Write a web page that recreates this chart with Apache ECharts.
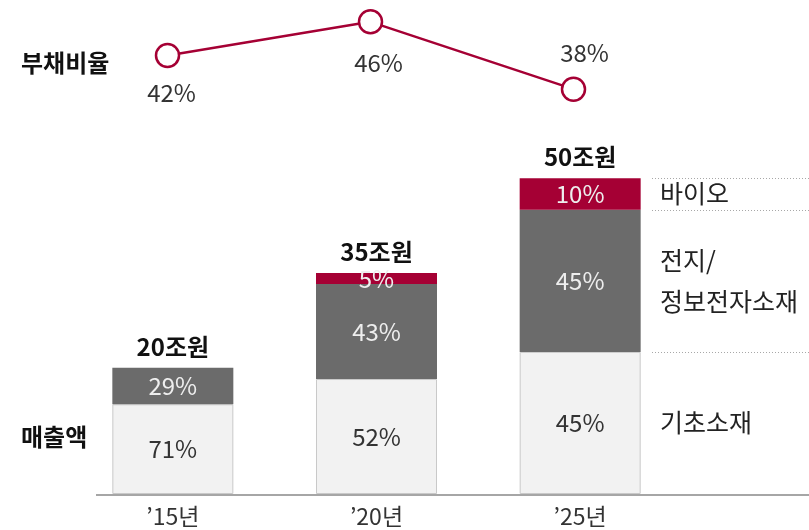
<!DOCTYPE html>
<html>
<head>
<meta charset="utf-8">
<script src="https://cdn.jsdelivr.net/npm/echarts@6/dist/echarts.min.js"></script>
<style>
  html, body { margin: 0; padding: 0; background: #fff; }
  #chart { width: 809px; height: 530px; }
</style>
</head>
<body>
<div id="chart"></div>
<script>
const years = ['’15년', '’20년', '’25년']
const totals = [20, 35, 50]            // 매출액 (조원)
const shareBase = [71, 52, 45]         // 기초소재 %
const shareBattery = [29, 43, 45]      // 전지/정보전자소재 %
const shareBio = [0, 5, 10]            // 바이오 %
const debtRatio = [42, 46, 38]         // 부채비율 %

const FONT = "'Noto Sans CJK KR', 'Noto Sans', sans-serif"
const RED = '#a50034'
const DARK = '#6b6b6b'
const LIGHT = '#f2f2f2'

let chart = echarts.init(document.getElementById('chart'))

// sales value of one segment = total * share
const part = (shares) => shares.map((s, i) => +(totals[i] * s / 100).toFixed(3))
const pctLabel = (shares, color) => ({
  show: true,
  position: 'inside',
  fontFamily: FONT,
  fontSize: 24,
  color,
  formatter: (p) => shares[p.dataIndex] ? shares[p.dataIndex] + '%' : ''
})

// label placement for the debt ratio points
const debtLabelPos = [
  { position: 'bottom', distance: 13, offset: [4, 0] },
  { position: 'bottom', distance: 16, offset: [8, 0] },
  { position: 'top', distance: 12, offset: [11, 0] }
]

let option = {
  animation: false,
  grid: [
    { left: 66, right: 134, top: 5, height: 101 },
    { left: 71, right: 127, top: 115, bottom: 36 }
  ],
  xAxis: [
    { gridIndex: 0, type: 'category', data: years, show: false },
    {
      gridIndex: 1, type: 'category', data: years,
      axisLine: { show: false }, axisTick: { show: false },
      axisLabel: { fontFamily: FONT, fontSize: 23, color: '#333', margin: 11 }
    }
  ],
  yAxis: [
    { gridIndex: 0, type: 'value', min: 36, max: 48, show: false },
    { gridIndex: 1, type: 'value', min: 0, max: 60, show: false }
  ],
  series: [
    {
      name: '부채비율', type: 'line', xAxisIndex: 0, yAxisIndex: 0,
      data: debtRatio.map((v, i) => ({ value: v, label: debtLabelPos[i] })),
      symbol: 'circle', symbolSize: 23,
      lineStyle: { color: RED, width: 2.5 },
      itemStyle: { color: '#fff', borderColor: RED, borderWidth: 2.5 },
      label: {
        show: true, fontFamily: FONT, fontSize: 24, color: '#333',
        formatter: (p) => p.value + '%'
      },
      z: 3
    },
    {
      name: '기초소재', type: 'bar', stack: 'sales', xAxisIndex: 1, yAxisIndex: 1,
      barWidth: 121, data: part(shareBase),
      itemStyle: { color: LIGHT, borderColor: '#c9c9c9', borderWidth: 1 },
      label: pctLabel(shareBase, '#333')
    },
    {
      name: '전지/정보전자소재', type: 'bar', stack: 'sales', xAxisIndex: 1, yAxisIndex: 1,
      barWidth: 121, data: part(shareBattery),
      itemStyle: { color: DARK },
      label: pctLabel(shareBattery, '#eeeeee')
    },
    {
      name: '바이오', type: 'bar', stack: 'sales', xAxisIndex: 1, yAxisIndex: 1,
      barWidth: 121, data: part(shareBio),
      itemStyle: { color: RED },
      label: pctLabel(shareBio, '#eeeeee')
    },
    {
      name: '합계', type: 'bar', stack: 'sales', xAxisIndex: 1, yAxisIndex: 1,
      barWidth: 121, data: totals.map(() => 0),
      label: {
        show: true, position: 'top', distance: 9,
        fontFamily: FONT, fontSize: 24, fontWeight: 'bold', color: '#111',
        formatter: (p) => totals[p.dataIndex] + '조원'
      }
    }
  ]
}
chart.setOption(option)

// annotations on the right of the last bar
let last = totals.length - 1
let yOf = (v) => chart.convertToPixel({ xAxisIndex: 1, yAxisIndex: 1 }, [last, v])[1]
let b0 = part(shareBase)[last]
let b1 = b0 + part(shareBattery)[last]
let b2 = b1 + part(shareBio)[last]
let baseY = yOf(0)
let dotted = (y) => ({
  type: 'line', shape: { x1: 652, y1: y, x2: 809, y2: y },
  style: { stroke: '#a8a8a8', lineWidth: 1, lineDash: [1, 2] }
})
let txt = (x, y, text, extra) => ({
  type: 'text', x, y,
  style: Object.assign({ text, fontFamily: FONT, fontSize: 25, fill: '#222', verticalAlign: 'middle', lineHeight: 41 }, extra || {})
})

chart.setOption({
  graphic: [
    { type: 'line', shape: { x1: 96, y1: baseY + 1, x2: 809, y2: baseY + 1 }, style: { stroke: '#a6a6a6', lineWidth: 2 } },
    dotted(Math.round(yOf(b2)) + 0.5),
    dotted(Math.round(yOf(b1)) + 0.5),
    dotted(Math.round(yOf(b0)) + 0.5),
    txt(660, (yOf(b1) + yOf(b2)) / 2, '바이오'),
    txt(660, (yOf(b0) + yOf(b1)) / 2, '전지/\n정보전자소재'),
    txt(660, (yOf(0) + yOf(b0)) / 2, '기초소재'),
    txt(21, 63, '부채비율', { fontWeight: 'bold', fontSize: 24, fill: '#111' }),
    txt(21, 437, '매출액', { fontWeight: 'bold', fontSize: 24, fill: '#111' })
  ]
})
</script>
</body>
</html>
